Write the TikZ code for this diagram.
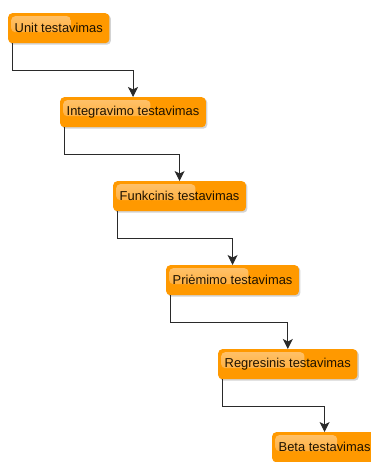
\documentclass[tikz,border=0pt]{standalone}
\usepackage{fontspec}
\setmainfont{Liberation Sans}
\usepackage{xcolor}
\usetikzlibrary{arrows.meta,shadows,calc}

\definecolor{boxorange}{HTML}{FF9900}
\definecolor{glosstop}{HTML}{FFC36E}
\definecolor{glossbot}{HTML}{FFA72A}
\definecolor{boxtext}{HTML}{1E1200}
\definecolor{linegray}{HTML}{2A2A2A}

\tikzset{
  stage/.style={anchor=north west,fill=boxorange,rounded corners=4pt,
    minimum height=30pt,inner xsep=6.5pt,text=boxtext,
    font=\fontsize{12.9}{14}\selectfont,
    drop shadow={shadow xshift=1.5pt,shadow yshift=-1.5pt,opacity=0.35},
    path picture={
      \shade[top color=glosstop,bottom color=glossbot,rounded corners=4pt]
        ($(path picture bounding box.north west)+(3pt,-3pt)$) rectangle
        ($(path picture bounding box.north west)!0.62!(path picture bounding box.north east)+(0,-19pt)$);
    }},
  flow/.style={draw=linegray,line width=0.9pt,
    -{Stealth[length=10pt,width=10pt,inset=2.5pt]}}
}

\begin{document}
\begin{tikzpicture}[x=1pt,y=1pt]
\useasboundingbox (0,0) rectangle (371,-462);
% stages
\node[stage] (unit)   at (8,-13)   {Unit testavimas};
\node[stage] (integr) at (60,-97)  {Integravimo testavimas};
\node[stage] (funkc)  at (113,-181) {Funkcinis testavimas};
\node[stage] (priem)  at (166,-265) {Priėmimo testavimas};
\node[stage] (regres) at (218,-349) {Regresinis testavimas};
\node[stage] (beta)   at (272,-432) {Beta testavimas};
% connectors
\foreach \a/\b in {unit/integr,integr/funkc,funkc/priem,priem/regres,regres/beta}{
  \draw[flow] ([xshift=4.5pt]\a.south west) -- ++(0,-27) -| (\b.north);
}
\end{tikzpicture}
\end{document}
